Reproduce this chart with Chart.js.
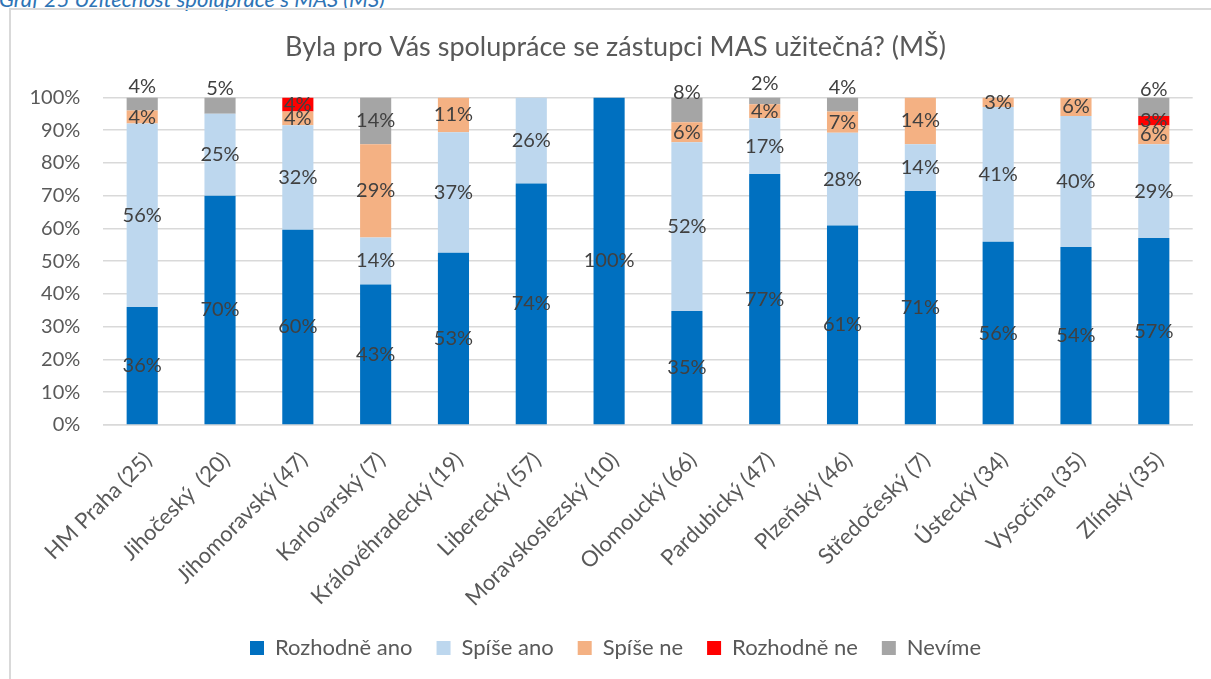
<!DOCTYPE html>
<html>
<head>
<meta charset="utf-8">
<script src="https://cdn.jsdelivr.net/npm/chart.js@4.4.0/dist/chart.umd.min.js"></script>
<style>
  html, body { margin: 0; padding: 0; background: #fff; overflow: hidden; }
  #wrap { position: relative; width: 1211px; height: 679px; overflow: hidden; }
  #caption { position: absolute; left: -1px; top: -15px; font: italic 22px Lato, sans-serif; color: #2E74B5; white-space: nowrap; }
  #frame { position: absolute; left: 9px; top: 8px; width: 1300px; height: 800px; border: 2px solid #d9d9d9; box-sizing: border-box; }
  #mas_chart { position: absolute; left: 0; top: 0; }
</style>
</head>
<body>
<div id="wrap">
  <div id="caption">Graf 25 Užitečnost spolupráce s MAS (MŠ)</div>
  <div id="frame"></div>
  <canvas id="mas_chart" width="1221" height="679"></canvas>
</div>
<script>
  // Setup Block
  const kraje = ['HM Praha (25)', 'Jihočeský  (20)', 'Jihomoravský (47)', 'Karlovarský (7)', 'Královéhradecký (19)',
    'Liberecký (57)', 'Moravskoslezský (10)', 'Olomoucký (66)', 'Pardubický (47)', 'Plzeňský (46)',
    'Středočeský (7)', 'Ústecký (34)', 'Vysočina (35)', 'Zlínský (35)'];
  const rozhodne_ano = [36, 70, 59.6, 42.9, 52.6, 73.7, 100, 34.8, 76.6, 60.9, 71.4, 55.9, 54.3, 57.1];
  const spise_ano    = [56, 25, 31.9, 14.3, 36.8, 26.3, 0, 51.5, 17.0, 28.3, 14.3, 41.2, 40.0, 28.6];
  const spise_ne     = [4, 0, 4.2, 28.5, 10.6, 0, 0, 6.1, 4.3, 6.5, 14.3, 2.9, 5.7, 5.7];
  const rozhodne_ne  = [0, 0, 4.3, 0, 0, 0, 0, 0, 0, 0, 0, 0, 0, 2.9];
  const nevime       = [4, 5, 0, 14.3, 0, 0, 0, 7.6, 2.1, 4.3, 0, 0, 0, 5.7];
  const y_ticks = [0, 10, 20, 30, 40, 50, 60, 70, 80, 90, 100];

  const font_family = 'Lato, "Open Sans", sans-serif';

  const data_mas = {
    labels: kraje,
    datasets: [
      { label: 'Rozhodně ano', data: rozhodne_ano, backgroundColor: '#0070C0' },
      { label: 'Spíše ano', data: spise_ano, backgroundColor: '#BDD7EE' },
      { label: 'Spíše ne', data: spise_ne, backgroundColor: '#F4B183' },
      { label: 'Rozhodně ne', data: rozhodne_ne, backgroundColor: '#FF0000' },
      { label: 'Nevíme', data: nevime, backgroundColor: '#A5A5A5' }
    ]
  };

  // labels in the middle of each segment, small "Nevíme" ones lifted above the bar
  const segmentLabels = {
    id: 'segmentLabels',
    afterDatasetsDraw(chart) {
      const ctx = chart.ctx;
      ctx.save();
      ctx.font = '20px ' + font_family;
      ctx.fillStyle = '#404040';
      ctx.textAlign = 'center';
      ctx.textBaseline = 'middle';
      chart.data.datasets.forEach((ds, i) => {
        const meta = chart.getDatasetMeta(i);
        meta.data.forEach((bar, j) => {
          const v = ds.data[j];
          if (!v) return;
          let y = (bar.y + bar.base) / 2;
          if (i === 4 && v < 10) y -= 17;
          ctx.fillText(Math.round(v) + '%', bar.x, y);
        });
      });
      ctx.restore();
    }
  };

  // Config Block
  const config_mas = {
    type: 'bar',
    data: data_mas,
    plugins: [segmentLabels],
    options: {
      responsive: false,
      animation: false,
      layout: { padding: { left: 10, right: 0, top: 0, bottom: 10 } },
      datasets: { bar: { barPercentage: 0.4, categoryPercentage: 1 } },
      scales: {
        x: {
          stacked: true,
          grid: { display: false, drawTicks: false },
          border: { color: '#d9d9d9', width: 1.5 },
          ticks: { color: '#595959', font: { size: 22, family: font_family }, maxRotation: 45, minRotation: 45, padding: 22, labelOffset: 6, autoSkip: false },
          afterFit: (scale) => { scale.height = 188; }
        },
        y: {
          stacked: true,
          min: 0,
          max: 100,
          afterBuildTicks: (scale) => { scale.ticks = y_ticks.map(v => ({ value: v })); },
          grid: { color: '#d9d9d9', lineWidth: 1.5, drawTicks: false },
          border: { display: false },
          ticks: { color: '#595959', font: { size: 20, family: font_family }, padding: 23, callback: (v) => v + '%' },
          afterFit: (scale) => { scale.width = 93.3; }
        },
        // empty right margin of the plot area, as in the original chart
        y_right: {
          position: 'right',
          grid: { display: false, drawTicks: false },
          border: { display: false },
          ticks: { display: false },
          afterFit: (scale) => { scale.width = 28.3; }
        }
      },
      plugins: {
        title: {
          display: true,
          text: 'Byla pro Vás spolupráce se zástupci MAS užitečná? (MŠ)',
          color: '#595959',
          font: { size: 27, weight: 'normal', family: font_family },
          padding: { top: 31, bottom: 34 }
        },
        legend: {
          position: 'bottom',
          labels: { color: '#595959', font: { size: 22, family: font_family }, boxWidth: 14, boxHeight: 14, padding: 24 }
        },
        tooltip: { enabled: false }
      }
    }
  };

  // Render Block
  const maschart = new Chart(
    document.getElementById('mas_chart'),
    config_mas
  );
</script>
</body>
</html>
